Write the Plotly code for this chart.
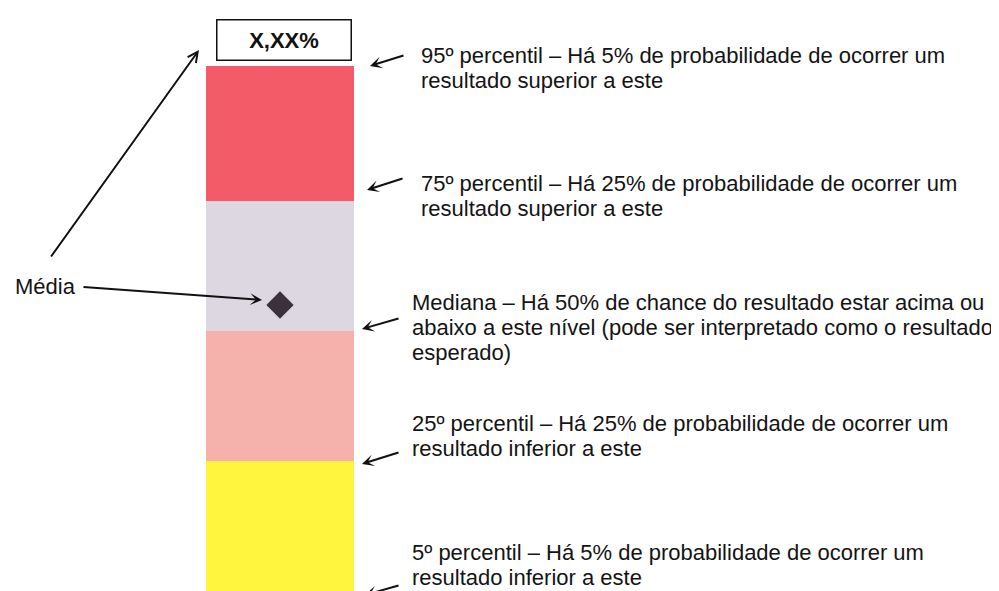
import plotly.graph_objects as go

# ---- data ----
band_names = ["5º–25º percentil", "25º–50º percentil", "50º–75º percentil", "75º–95º percentil"]
band_heights = [131, 130, 130, 135]          # bottom to top (relative scale)
band_start = -1
band_colors = ["#FFF43E", "#F5B2AC", "#DDD7E1", "#F45B68"]
mean_value = 286
box_label = "X,XX%"

legend_lines = [
    ["95º percentil – Há 5% de probabilidade de ocorrer um", "resultado superior a este"],
    ["75º percentil – Há 25% de probabilidade de ocorrer um", "resultado superior a este"],
    ["Mediana – Há 50% de chance do resultado estar acima ou",
     "abaixo a este nível (pode ser interpretado como o resultado", "esperado)"],
    ["25º percentil – Há 25% de probabilidade de ocorrer um", "resultado inferior a este"],
    ["5º percentil – Há 5% de probabilidade de ocorrer um", "resultado inferior a este"],
]
mean_label = "Média"

H = 591
OFF = 8  # page body margin
def up(ypx):
    return H - ypx

fig = go.Figure()
base = band_start
for name, h, c in zip(band_names, band_heights, band_colors):
    fig.add_trace(go.Bar(x=[280], y=[h], base=[base], width=[148], marker=dict(color=c, line=dict(width=0)),
                         name=name, showlegend=False, hoverinfo="skip"))
    base += h

fig.add_trace(go.Scatter(x=[280], y=[mean_value], mode="markers",
                         marker=dict(symbol="diamond", size=21, color="#3B313E"),
                         showlegend=False, hoverinfo="skip"))

FAM = "Liberation Sans, Arial, sans-serif"
TXT = 22

# text blocks: (x, block center px, line pitch px)
text_pos = [
    (419, 68, 25),
    (419, 196, 25),
    (410, 327, 25),
    (410, 436, 25),
    (410, 565, 25),
]
ann = []
for (x, yc, pitch), lines in zip(text_pos, legend_lines):
    body = "<br>".join('<span style="font-size:%dpx">%s</span>' % (TXT, t) for t in lines)
    ann.append(dict(x=x, y=up(yc), xref="x", yref="y", text=body, showarrow=False,
                    xanchor="left", yanchor="middle", align="left",
                    font=dict(family=FAM, size=pitch / 1.3, color="#141414")))
ann.append(dict(x=13, y=up(286), xref="x", yref="y", text=mean_label, showarrow=False,
                xanchor="left", yanchor="middle", font=dict(family=FAM, size=TXT, color="#141414")))

# value box
ann.append(dict(x=283.5, y=up(39.5), xref="x", yref="y", text="<b>" + box_label + "</b>", showarrow=False,
                xanchor="center", yanchor="middle", width=133, height=39,
                bordercolor="#111", borderwidth=1.5, borderpad=0, bgcolor="white",
                font=dict(family=FAM, size=22, color="#111")))

# arrows: (tail_x, tail_y, tip_x, tip_y, head)
arrows = [
    (50, 258, 199, 50, 5),
    (82, 287, 262, 300, 3),
    (405, 55, 370, 66, 3),
    (404, 178, 367, 190, 3),
    (400, 318, 362, 329, 3),
    (400, 452, 362, 464, 3),
    (400, 585, 365, 595, 3),
]
for tx, ty, hx, hy, hd in arrows:
    ann.append(dict(x=hx, y=up(hy), ax=tx, ay=up(ty), xref="x", yref="y", axref="x", ayref="y",
                    text="", showarrow=True, arrowhead=hd, arrowsize=1, arrowwidth=2, arrowcolor="#111"))

fig.update_layout(
    width=999, height=591, margin=dict(l=0, r=0, t=0, b=0),
    paper_bgcolor="white", plot_bgcolor="white", barmode="overlay", bargap=0,
    xaxis=dict(range=[OFF, 999 + OFF], visible=False, fixedrange=True),
    yaxis=dict(range=[-OFF, H - OFF], visible=False, fixedrange=True),
    annotations=ann,
)
fig.write_html("out.html")
